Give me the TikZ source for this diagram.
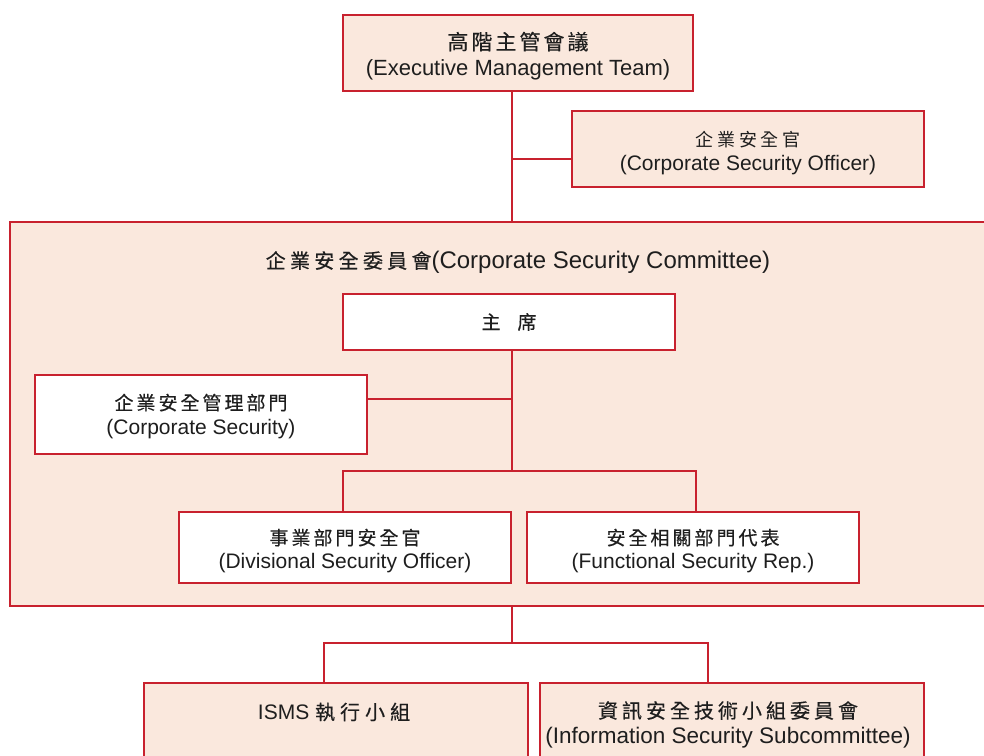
\documentclass[tikz,border=0pt]{standalone}
\usepackage{fontspec}
\setmainfont{Liberation Sans}
\newfontfamily\cjk{Noto Sans CJK TC}
\newfontfamily\cjkm[FakeBold=0.4]{Noto Sans CJK TC}
\definecolor{peach}{HTML}{FAE8DD}
\definecolor{bred}{HTML}{C8212E}
\definecolor{ink}{HTML}{1E1E1E}
\makeatletter
\newcommand\spaced[2]{\def\sp@gap{#1}\let\sp@first\relax\@tfor\sp@c:=#2\do{\ifx\sp@first\relax\else\hspace{\sp@gap}\fi\sp@c\def\sp@first{x}}}
\makeatother
\newcommand\cj[3]{{\cjkm\fontsize{#1}{25}\selectfont\spaced{#2}{#3}}}
\newcommand\cjl[3]{{\cjk\fontsize{#1}{25}\selectfont\spaced{#2}{#3}}}
\begin{document}
\begin{tikzpicture}[x=1pt,y=-1pt,
  box/.style={draw=bred, line width=2pt, inner sep=0pt},
  peachbox/.style={box, fill=peach},
  whitebox/.style={box, fill=white},
  wire/.style={draw=bred, line width=1.6pt},
  lbl/.style={text=ink, inner sep=0pt, align=center},
]
\clip (0,0) rectangle (984,755);
\fill[white] (0,0) rectangle (984,755);

% committee container
\node[peachbox, minimum width=985, minimum height=384] (comm) at (502.5,414) {};
\node[lbl, font=\fontsize{24}{28}\selectfont] (commtitle) at (518,262)
  {\cj{20}{4.3pt}{企業安全委員會}(Corporate Security Committee)};

% top boxes
\node[peachbox, minimum width=350, minimum height=76] (top) at (518,53) {};
\node[lbl, font=\fontsize{22}{26}\selectfont] (toptext) at (518,56)
  {\cj{21}{3pt}{高階主管會議}\\(Executive Management Team)};
\node[peachbox, minimum width=352, minimum height=76] (cso) at (748,149) {};
\node[lbl, font=\fontsize{21}{24}\selectfont] (csotext) at (748,153)
  {\cjl{18}{4pt}{企業安全官}\\(Corporate Security Officer)};

% inner boxes
\node[whitebox, minimum width=332, minimum height=56] (chair) at (509,322) {};
\node[lbl] (chairtext) at (509,322) {\cj{19}{17pt}{主席}};
\node[whitebox, minimum width=332, minimum height=79] (cs) at (201,414.5) {};
\node[lbl, font=\fontsize{21}{25}\selectfont] (cstext) at (201,416.5)
  {\cj{19}{3pt}{企業安全管理部門}\\(Corporate Security)};
\node[whitebox, minimum width=332, minimum height=71] (div) at (345,547.5) {};
\node[lbl, font=\fontsize{21}{24}\selectfont] (divtext) at (345,551)
  {\cj{19}{3pt}{事業部門安全官}\\(Divisional Security Officer)};
\node[whitebox, minimum width=332, minimum height=71] (func) at (693,547.5) {};
\node[lbl, font=\fontsize{21}{24}\selectfont] (functext) at (693,551)
  {\cj{19}{3pt}{安全相關部門代表}\\(Functional Security Rep.)};

% bottom boxes
\node[peachbox, minimum width=384, minimum height=84] (isms) at (336,725) {};
\node[peachbox, minimum width=384, minimum height=84] (info) at (732,725) {};
\node[lbl, font=\fontsize{21}{25}\selectfont] (ismstext) at (334,712)
  {ISMS \cj{20}{5pt}{執行小組}};
\node[lbl, font=\fontsize{22.5}{25}\selectfont] (infotext) at (728,724.5)
  {\cj{20}{4pt}{資訊安全技術小組委員會}\\(Information Security Subcommittee)};

% junction coordinates
\coordinate (spine) at (512,0);
\coordinate (csoj) at (572,159);
\coordinate (csj) at (367,399);
\coordinate (brA) at (512,471);
\coordinate (divx) at (343,0);
\coordinate (funcx) at (696,0);
\coordinate (brB) at (512,643);
\coordinate (ismsx) at (324,0);
\coordinate (infox) at (708,0);

% connectors
\draw[wire] (top.south -| spine) -- (comm.north -| spine);
\draw[wire] (csoj -| spine) -- (csoj);
\draw[wire] (chair.south -| spine) -- (brA);
\draw[wire] (csj) -- (csj -| spine);
\draw[wire] (div.north -| divx) -- (brA -| divx) -- (brA -| funcx) -- (func.north -| funcx);
\draw[wire] (comm.south -| spine) -- (brB);
\draw[wire] (isms.north -| ismsx) -- (brB -| ismsx) -- (brB -| infox) -- (info.north -| infox);
\end{tikzpicture}
\end{document}
